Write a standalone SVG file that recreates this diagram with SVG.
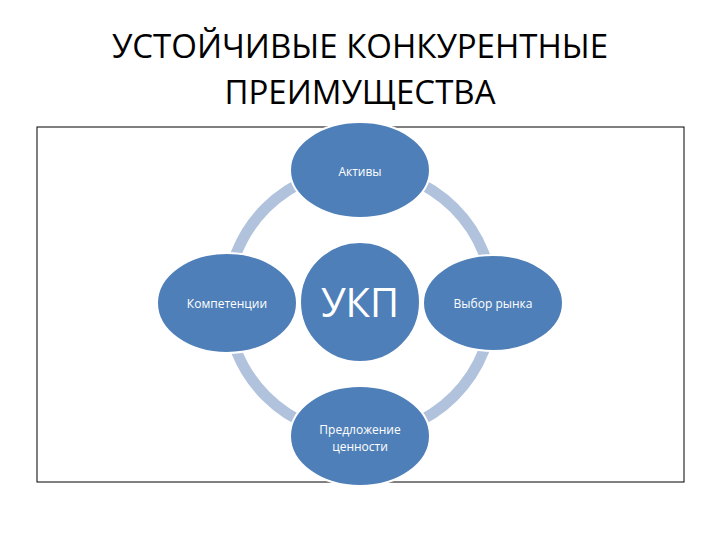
<svg xmlns="http://www.w3.org/2000/svg" width="720" height="540" viewBox="0 0 720 540">
<style>
.t{font-family:"Open Sans","Liberation Sans",sans-serif;fill:#000;font-size:33px;text-anchor:middle}
.n{fill:#4f7fb8;stroke:#fff;stroke-width:2}
.l{font-family:"Open Sans","Liberation Sans",sans-serif;fill:#fff;font-size:12px;text-anchor:middle}
</style>
<rect width="720" height="540" fill="#fff"/>
<text class="t" x="360" y="58">УСТОЙЧИВЫЕ КОНКУРЕНТНЫЕ</text>
<text class="t" x="360" y="104">ПРЕИМУЩЕСТВА</text>
<rect x="37" y="127" width="647" height="355" fill="none" stroke="#000" stroke-width="1"/>
<g id="connectors"><circle cx="360" cy="302" r="133" fill="none" stroke="#b0c2dc" stroke-width="11"/></g>
<g id="n-top"><ellipse class="n" cx="360" cy="170" rx="70" ry="48"/><text class="l" x="360" y="176">Активы</text></g>
<g id="n-left"><ellipse class="n" cx="227" cy="303" rx="70" ry="50"/><text class="l" x="227" y="308">Компетенции</text></g>
<g id="n-right"><ellipse class="n" cx="493" cy="303" rx="70" ry="48"/><text class="l" x="493" y="308">Выбор рынка</text></g>
<g id="n-bottom"><ellipse class="n" cx="360" cy="436" rx="70" ry="50"/><text class="l" x="360" y="434">Предложение</text><text class="l" x="360" y="451">ценности</text></g>
<g id="n-center"><circle class="n" cx="360" cy="302" r="60"/><text class="l" x="360" y="317" style="font-size:40px">УКП</text></g>
</svg>
